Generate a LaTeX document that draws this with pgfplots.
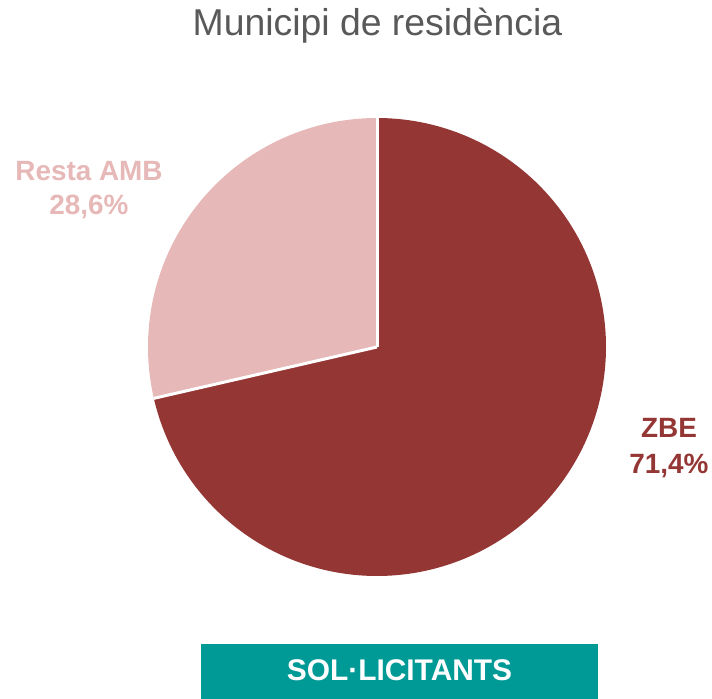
\documentclass[border=0pt]{standalone}
\usepackage{fontspec}
\setmainfont{Liberation Sans}
\usepackage{pgfplots}
\usepackage{pgfplotstable}
\pgfplotsset{compat=1.18}
\definecolor{zbe}{HTML}{943634}
\definecolor{resta}{HTML}{E6B8B7}
\definecolor{tealbox}{HTML}{009A96}
\definecolor{titlegray}{HTML}{595959}
\pgfplotstableread{
label value
ZBE 71.4
Resta 28.6
}\piedata
\begin{document}%
\begin{tikzpicture}
\pgfplotstablegetelem{0}{value}\of\piedata \let\zbeval\pgfplotsretval
\pgfplotstablegetelem{1}{value}\of\piedata \let\restaval\pgfplotsretval
\pgfmathsetmacro\zbeend{90-3.6*\zbeval}
\pgfmathsetmacro\restaend{90+3.6*\restaval}
\pgfmathsetmacro\xe{377+229*cos(\restaend)}
\pgfmathsetmacro\ye{352+229*sin(\restaend)}
\begin{axis}[width=712bp,height=699bp,scale only axis,
  xmin=0,xmax=712,ymin=0,ymax=699,hide axis,clip=false,
  xtick=\empty,ytick=\empty]
\coordinate (bl) at (rel axis cs:0,0);
\coordinate (tr) at (rel axis cs:1,1);
\addplot[draw=none, fill=zbe, domain=\zbeend:90, samples=240]
  ({377+229*cos(x)},{352+229*sin(x)}) -- (axis cs:377,352) -- cycle;
\addplot[draw=none, fill=resta, domain=90:\restaend, samples=120]
  ({377+229*cos(x)},{352+229*sin(x)}) -- (axis cs:377,352) -- cycle;
\addplot[white, line width=3bp] coordinates {(377,352) (377,582)};
\addplot[white, line width=3bp] coordinates {(377,352) (\xe,\ye)};
\node[anchor=base, text=titlegray, inner sep=0pt, font=\fontsize{37.5}{42}\selectfont] at (axis cs:377.5,663) {Municipi de residència};
\node[anchor=base, text=resta, font=\bfseries\fontsize{28}{32}\selectfont] at (axis cs:89,518.3) {Resta AMB};
\node[anchor=base, text=resta, font=\bfseries\fontsize{28}{32}\selectfont] at (axis cs:89,484.3) {28,6\%};
\node[anchor=base, text=zbe, font=\bfseries\fontsize{28}{32}\selectfont] at (axis cs:669,261.7) {ZBE};
\node[anchor=base, text=zbe, font=\bfseries\fontsize{28}{32}\selectfont] at (axis cs:669,225.7) {71,4\%};
\fill[tealbox] (axis cs:201,0) rectangle (axis cs:598,55);
\node[anchor=base, text=white, font=\bfseries\fontsize{30}{34}\selectfont] at (axis cs:399.5,18.3) {SOL·LICITANTS};
\end{axis}
\pgfresetboundingbox
\useasboundingbox (bl) rectangle (tr);
\end{tikzpicture}%
\end{document}
